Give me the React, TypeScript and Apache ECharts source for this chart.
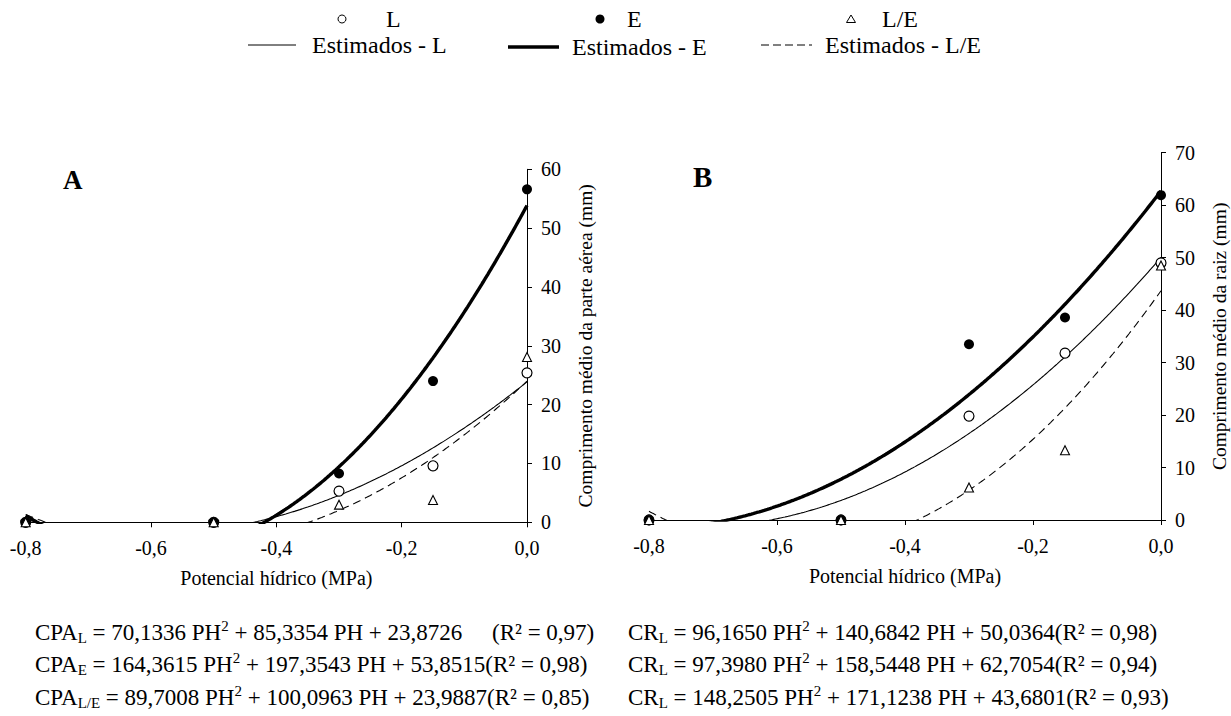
import React, { useEffect, useRef } from "react";
import * as echarts from "echarts";

// Water potential levels (MPa)
const potentials = [-0.8, -0.5, -0.3, -0.15, 0];
// Panel A – shoot length (mm)
const shootL = [0, 0, 5.3, 9.6, 25.4];
const shootE = [0, 0, 8.3, 24.0, 56.6];
const shootLE = [0, 0, 3.0, 3.8, 28.1];
// Panel B – root length (mm)
const rootL = [0, 0, 19.8, 31.8, 49.0];
const rootE = [0, 0, 33.5, 38.6, 61.9];
const rootLE = [0, 0, 6.2, 13.3, 48.5];
// Fitted quadratic coefficients [a, b, c] as printed below the chart
const fitShootL = [70.1336, 85.3354, 23.8726];
const fitShootE = [164.3615, 197.3543, 53.8515];
const fitShootLE = [89.7008, 100.0963, 23.9887];
const fitRootL = [96.165, 140.6842, 50.0364];
const fitRootE = [97.398, 158.5448, 62.7054];
const fitRootLE = [148.2505, 171.1238, 43.6801];

const FONT = "Liberation Serif, serif";

function fitCurve(coef: number[]) {
  const pts: number[][] = [];
  for (let i = 0; i <= 320; i++) {
    const x = -0.8 + (0.8 * i) / 320;
    pts.push([x, coef[0] * x * x + coef[1] * x + coef[2]]);
  }
  return pts;
}

const pair = (ys: number[]) => potentials.map((x, i) => [x, ys[i]]);

function xAxisCfg(grid: number) {
  return {
    gridIndex: grid,
    type: "value",
    min: -0.8,
    max: 0,
    interval: 0.2,
    axisLine: { onZero: false, lineStyle: { color: "#000", width: 1 } },
    axisTick: { show: true, length: 5, lineStyle: { color: "#000" } },
    axisLabel: {
      color: "#000",
      fontSize: 20,
      fontFamily: FONT,
      margin: 16,
      formatter: (v: number) => v.toFixed(1).replace(".", ","),
    },
    splitLine: { show: false },
    name: "Potencial hídrico (MPa)",
    nameLocation: "middle",
    nameGap: 46,
    nameTextStyle: { color: "#000", fontSize: 20, fontFamily: FONT },
  };
}

function yAxisCfg(grid: number, max: number, name: string) {
  return {
    gridIndex: grid,
    type: "value",
    position: "right",
    min: 0,
    max,
    interval: 10,
    axisLine: { show: true, lineStyle: { color: "#000", width: 1 } },
    axisTick: { show: true, length: 5, lineStyle: { color: "#000" } },
    axisLabel: { color: "#000", fontSize: 20, fontFamily: FONT, margin: 14 },
    splitLine: { show: false },
    name,
    nameLocation: "middle",
    nameRotate: 90,
    nameGap: 48,
    nameTextStyle: { color: "#000", fontSize: 19.5, fontFamily: FONT },
  };
}

function scatterSeries(grid: number, ys: number[], kind: string) {
  const base: any = {
    type: "scatter",
    xAxisIndex: grid,
    yAxisIndex: grid,
    data: pair(ys),
    z: 5,
  };
  if (kind === "L") {
    base.symbol = "circle";
    base.symbolSize = 10;
    base.itemStyle = { color: "#fff", borderColor: "#000", borderWidth: 1.2, opacity: 1 };
  } else if (kind === "E") {
    base.symbol = "circle";
    base.symbolSize = 10;
    base.itemStyle = { color: "#000", opacity: 1 };
  } else {
    base.symbol = "triangle";
    base.symbolSize = 9;
    base.itemStyle = { color: "#fff", borderColor: "#000", borderWidth: 1.1, opacity: 1 };
  }
  return base;
}

function lineSeries(grid: number, coef: number[], kind: string) {
  const style: any = { color: "#000", width: 1.1, type: "solid" };
  if (kind === "E") style.width = 3.4;
  if (kind === "LE") style.type = [8, 5];
  return {
    type: "line",
    xAxisIndex: grid,
    yAxisIndex: grid,
    data: fitCurve(coef),
    showSymbol: false,
    symbol: "none",
    clip: true,
    lineStyle: style,
    z: 3,
  };
}

const EQ_SIZE = 23;
const eqRich = {
  sub: { fontSize: 15, fontFamily: FONT, verticalAlign: "bottom", lineHeight: 14, fill: "#000" },
  sup: { fontSize: 15, fontFamily: FONT, verticalAlign: "top", lineHeight: 14, fill: "#000" },
};

function eqText(x: number, y: number, text: string) {
  return {
    type: "text",
    x,
    y,
    style: {
      text,
      fontSize: EQ_SIZE,
      fontFamily: FONT,
      fill: "#000",
      verticalAlign: "middle",
      align: "left",
      lineHeight: 27,
      rich: eqRich,
    },
  };
}

function plainText(x: number, y: number, text: string, size: number, weight = "normal") {
  return {
    type: "text",
    x,
    y,
    style: {
      text,
      fontSize: size,
      fontWeight: weight,
      fontFamily: FONT,
      fill: "#000",
      verticalAlign: "middle",
      align: "left",
    },
  };
}

const R1 = 19;
const R2 = 45;
const LEG = 24;

export default function App() {
  const ref = useRef<HTMLDivElement>(null);
  useEffect(() => {
    if (!ref.current) return;
    const chart = echarts.init(ref.current, undefined, { renderer: "svg" });
    chart.setOption({
      animation: false,
      backgroundColor: "#fff",
      textStyle: { fontFamily: FONT },
      grid: [
        { left: 25.7, top: 169.3, width: 501.3, height: 353 },
        { left: 649, top: 152.7, width: 512, height: 367.3 },
      ],
      xAxis: [xAxisCfg(0), xAxisCfg(1)],
      yAxis: [
        yAxisCfg(0, 60, "Comprimento médio da parte aérea (mm)"),
        yAxisCfg(1, 70, "Comprimento médio da raiz (mm)"),
      ],
      series: [
        lineSeries(0, fitShootL, "L"),
        lineSeries(0, fitShootE, "E"),
        lineSeries(0, fitShootLE, "LE"),
        scatterSeries(0, shootL, "L"),
        scatterSeries(0, shootE, "E"),
        scatterSeries(0, shootLE, "LE"),
        lineSeries(1, fitRootL, "L"),
        lineSeries(1, fitRootE, "E"),
        lineSeries(1, fitRootLE, "LE"),
        scatterSeries(1, rootL, "L"),
        scatterSeries(1, rootE, "E"),
        scatterSeries(1, rootLE, "LE"),
      ],
      graphic: [
        // legend row 1
        { type: "circle", shape: { cx: 342, cy: R1, r: 4 }, style: { fill: "#fff", stroke: "#000", lineWidth: 1 } },
        plainText(386, R1, "L", LEG),
        { type: "circle", shape: { cx: 600, cy: R1, r: 4.5 }, style: { fill: "#000" } },
        plainText(627, R1, "E", LEG),
        {
          type: "polygon",
          shape: { points: [[851, R1 - 4], [855.5, R1 + 3.5], [846.5, R1 + 3.5]] },
          style: { fill: "#fff", stroke: "#000", lineWidth: 1 },
        },
        plainText(882, R1, "L/E", LEG),
        // legend row 2
        { type: "line", shape: { x1: 248, y1: R2, x2: 296, y2: R2 }, style: { stroke: "#000", lineWidth: 1 } },
        plainText(312, R2, "Estimados - L", LEG),
        { type: "line", shape: { x1: 508, y1: R2 + 2, x2: 559, y2: R2 + 2 }, style: { stroke: "#000", lineWidth: 3.5 } },
        plainText(572, R2 + 2, "Estimados - E", LEG),
        {
          type: "line",
          shape: { x1: 761, y1: R2, x2: 812, y2: R2 },
          style: { stroke: "#000", lineWidth: 1, lineDash: [8, 4] },
        },
        plainText(825, R2, "Estimados - L/E", LEG),
        // panel letters
        plainText(63, 180, "A", 27, "bold"),
        plainText(693, 177, "B", 29, "bold"),
        // equations
        eqText(35, 632, "CPA{sub|L} = 70,1336 PH{sup|2} + 85,3354 PH + 23,8726"),
        eqText(492, 632, "(R² = 0,97)"),
        eqText(35, 664, "CPA{sub|E} = 164,3615 PH{sup|2} + 197,3543 PH + 53,8515(R² = 0,98)"),
        eqText(35, 697, "CPA{sub|L/E} = 89,7008 PH{sup|2} + 100,0963 PH + 23,9887(R² = 0,85)"),
        eqText(628, 632, "CR{sub|L} = 96,1650 PH{sup|2} + 140,6842 PH + 50,0364(R² = 0,98)"),
        eqText(628, 664, "CR{sub|L} = 97,3980 PH{sup|2} + 158,5448 PH + 62,7054(R² = 0,94)"),
        eqText(628, 697, "CR{sub|L} = 148,2505 PH{sup|2} + 171,1238 PH + 43,6801(R² = 0,93)"),
      ],
    });
    return () => chart.dispose();
  }, []);
  return (
    <div
      ref={ref}
      style={{ position: "absolute", left: 0, top: 0, width: 1231, height: 716, background: "#fff" }}
    />
  );
}
